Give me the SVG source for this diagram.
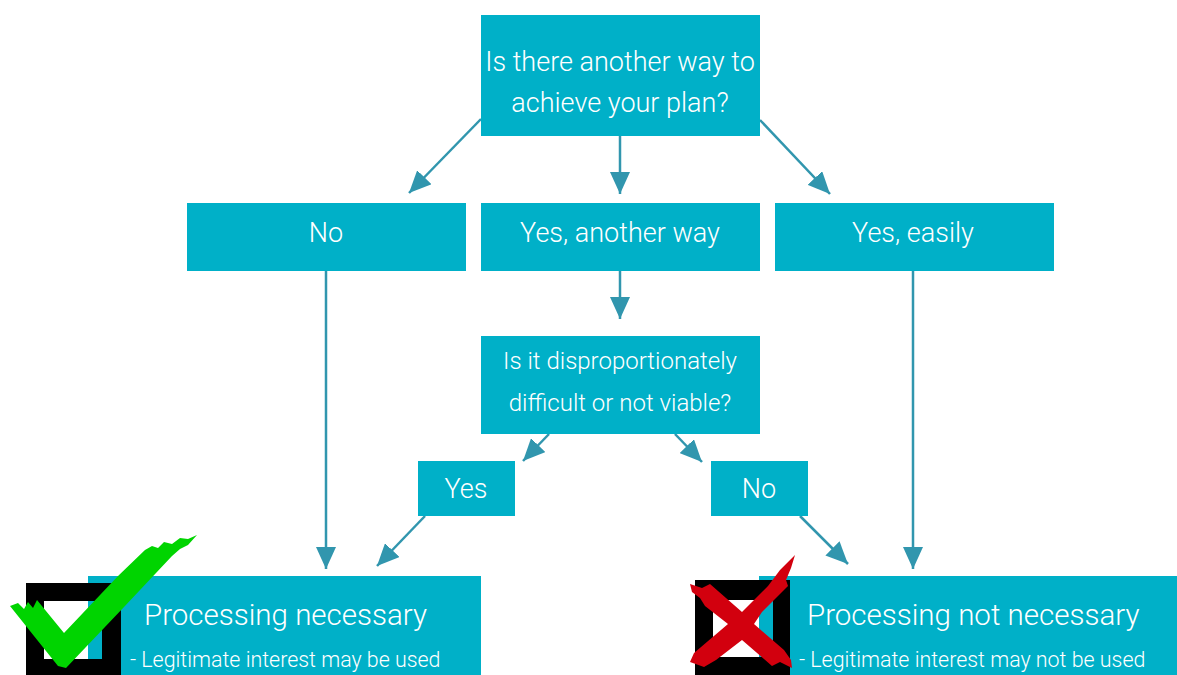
<svg xmlns="http://www.w3.org/2000/svg" width="1177" height="675" viewBox="0 0 1177 675">
<defs>
<style>
.box{fill:#00B0C8}
.t{font-family:Roboto,"Liberation Sans",sans-serif;font-weight:300;fill:#ffffff;text-anchor:middle}
.t24{font-size:27px}
.q2{font-size:24px}
.big{font-size:29.5px;text-anchor:start}
.sm{font-size:21.4px;text-anchor:start}
.c{stroke:#3196AE;stroke-width:2.5;fill:none;marker-end:url(#ah)}
</style>
<marker id="ah" markerUnits="userSpaceOnUse" markerWidth="24" markerHeight="20" viewBox="0 0 24 20" refX="22" refY="10" orient="auto">
<path d="M0,0 L22,10 L0,20 Z" fill="#3196AE"/>
</marker>
</defs>
<rect width="1177" height="675" fill="#ffffff"/>
<g id="connectors">
<line class="c" x1="481" y1="119" x2="409" y2="193"/>
<line class="c" x1="620" y1="136" x2="620" y2="194"/>
<line class="c" x1="760" y1="120" x2="830" y2="194"/>
<line class="c" x1="620" y1="271" x2="620" y2="319"/>
<line class="c" x1="549" y1="434" x2="523" y2="461"/>
<line class="c" x1="675" y1="434" x2="702" y2="462"/>
<line class="c" x1="326" y1="271" x2="326" y2="569"/>
<line class="c" x1="913" y1="271" x2="913" y2="569"/>
<line class="c" x1="425" y1="516" x2="377" y2="566"/>
<line class="c" x1="800" y1="516" x2="848" y2="564"/>
</g>
<g id="q1"><rect class="box" x="481" y="15" width="279" height="121"/>
<text class="t t24" x="620" y="71">Is there another way to</text>
<text class="t t24" x="620" y="112">achieve your plan?</text></g>
<g id="no1"><rect class="box" x="187" y="203" width="279" height="68"/>
<text class="t t24" x="326" y="242">No</text></g>
<g id="yesanother"><rect class="box" x="481" y="203" width="279" height="68"/>
<text class="t t24" x="620" y="242">Yes, another way</text></g>
<g id="yeseasily"><rect class="box" x="775" y="203" width="279" height="68"/>
<text class="t t24" x="913" y="242">Yes, easily</text></g>
<g id="q2"><rect class="box" x="481" y="336" width="279" height="98"/>
<text class="t q2" x="620" y="369">Is it disproportionately</text>
<text class="t q2" x="620" y="411">difficult or not viable?</text></g>
<g id="yes2"><rect class="box" x="418" y="461" width="97" height="55"/>
<text class="t t24" x="466" y="498">Yes</text></g>
<g id="no2"><rect class="box" x="711" y="461" width="97" height="55"/>
<text class="t t24" x="759" y="498">No</text></g>
<g id="necessary"><rect class="box" x="88" y="576" width="393" height="99"/>
<text class="t big" x="144" y="625">Processing necessary</text>
<text class="t sm" x="130" y="667">- Legitimate interest may be used</text>
<path d="M26,583 H121 V675 H26 Z M44,601 V659 H102 V601 Z" fill="#000000" fill-rule="evenodd"/>
<polygon points="10,606 18,603 24,609 28,602 33,608 37,600 64,633 118,576 145,550 152,546 158,548 164,542 172,544 180,538 188,539 197,535 188,545 180,549 172,556 124,607 66,668 58,666" fill="#00D400"/>
</g>
<g id="notnecessary"><rect class="box" x="759" y="576" width="418" height="99"/>
<text class="t big" x="807" y="625">Processing not necessary</text>
<text class="t sm" x="799" y="667">- Legitimate interest may not be used</text>
<path d="M695,580 H790 V675 H695 Z M713,600 V657 H773 V600 Z" fill="#000000" fill-rule="evenodd"/>
<polygon points="690,584 702,588 710,584 742,612 768,586 780,570 795,555 791,568 786,580 788,586 762,612 754,624 784,650 791,660 792,668 780,662 772,666 742,640 716,660 704,667 690,662 694,653 728,624 705,606 700,598 692,592" fill="#D2000E"/>
</g>
</svg>
